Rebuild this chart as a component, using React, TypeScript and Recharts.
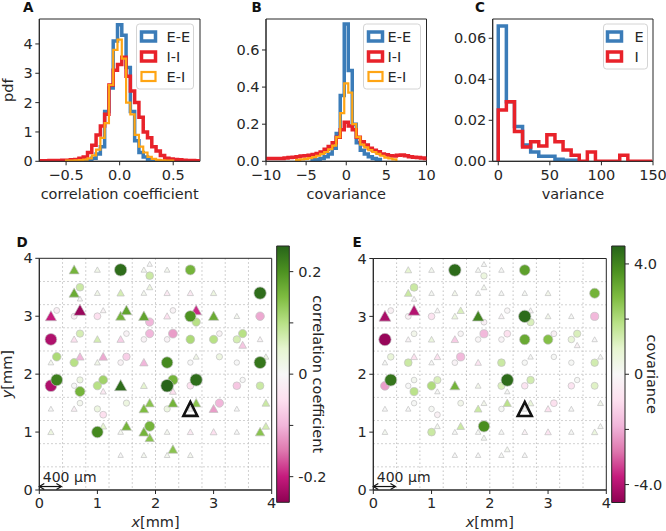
import React from "react";
import {
  LineChart,
  Line,
  ScatterChart,
  Scatter,
  ComposedChart,
  XAxis,
  YAxis,
  CartesianGrid,
  ReferenceArea,
  ReferenceLine,
} from "recharts";

const W = 666;
const H = 531;
const AX = 30; // space given to each axis in the layout
const FONT = "'DejaVu Sans', sans-serif";
const INK = "#262626";
const FS = 14.5;

const BLUE = "#3b7cb8";
const RED = "#e8222a";
const ORANGE = "#ffa514";

// ---- A: correlation coefficient histograms (bin width 0.04)
const A_BIN = 0.04;
const A_EE_START = -0.38;
const A_EE = [0.01, 0.02, 0.05, 0.1, 0.25, 0.5, 1.7, 2.5, 4.1, 4.65, 4.3, 3.2, 1.7, 0.7, 0.3, 0.15, 0.05, 0.02, 0.01];
const A_II_START = -0.74;
const A_II = [
  0.02, 0.02, 0.03, 0.03, 0.03, 0.04, 0.04, 0.05, 0.06, 0.1, 0.15, 0.3, 0.55, 0.9, 1.2, 1.6, 2.6, 3.1, 3.3,
  3.55, 2.9, 2.4, 2.0, 1.5, 1.0, 0.8, 0.5, 0.35, 0.2, 0.1, 0.08, 0.06, 0.05, 0.04, 0.03, 0.03, 0.02,
];
const A_EI_START = -0.5;
const A_EI = [
  0.02, 0.02, 0.03, 0.04, 0.06, 0.1, 0.2, 0.4, 0.8, 1.3, 2.6, 3.8, 4.15, 3.5, 2.0, 1.6, 0.9, 0.5, 0.3, 0.15,
  0.08, 0.05, 0.03, 0.02, 0.02,
];
const A_XTICKS = [-0.5, 0, 0.5];
const A_YTICKS = [0, 1, 2, 3, 4];

// ---- B: covariance histograms (bin width 0.5)
const B_BIN = 0.5;
const B_EE_START = -4.25;
const B_EE = [0.008, 0.01, 0.015, 0.025, 0.04, 0.07, 0.15, 0.355, 0.74, 0.49, 0.2, 0.1, 0.06, 0.04, 0.025, 0.015, 0.01];
const B_II_START = -10.25;
const B_II = [
  0.015, 0.015, 0.015, 0.015, 0.015, 0.018, 0.02, 0.022, 0.025, 0.028, 0.03, 0.033, 0.036, 0.042, 0.05, 0.065,
  0.08, 0.1, 0.13, 0.17, 0.21, 0.19, 0.17, 0.13, 0.105, 0.088, 0.07, 0.06, 0.052, 0.04, 0.035, 0.03, 0.028,
  0.032, 0.034, 0.03, 0.025, 0.022, 0.02, 0.018, 0.015,
];
const B_EI_START = -6.25;
const B_EI = [
  0.008, 0.01, 0.013, 0.017, 0.022, 0.03, 0.04, 0.05, 0.065, 0.085, 0.13, 0.26, 0.42, 0.37, 0.2, 0.13, 0.09,
  0.075, 0.06, 0.05, 0.04, 0.03, 0.02, 0.015, 0.01,
];
const B_XTICKS = [-10, -5, 0, 5, 10];
const B_YTICKS = [0, 0.2, 0.4, 0.6];

// ---- C: variance histograms (bin width 7.85)
const C_BIN = 7.85;
const C_E = [0.066, 0.029, 0.017, 0.008, 0.0045, 0.0025, 0.0025, 0.001, 0.0005, 0.0005];
const C_I = [0.025, 0.029, 0.0145, 0.007, 0.0095, 0.0075, 0.013, 0.0095, 0.0055, 0.003, 0, 0.0045, 0, 0, 0, 0.003, 0, 0, 0];
const C_XTICKS = [0, 50, 100, 150];
const C_YTICKS = [0, 0.02, 0.04, 0.06];

// ---- D / E: electrode map (mm), c = circle, t = triangle
const MAP_X = [
  0.6, 1.0, 1.4, 1.8, 1.9, 1.9, 2.2, 2.6,
  0.6, 0.7, 0.7, 1.0, 1.4, 1.8, 1.9, 2.2, 2.6, 3.0, 3.8,
  0.2, 0.3, 0.6, 0.7, 1.0, 1.1, 1.4, 1.5, 1.8, 1.9, 2.2, 2.3, 2.6, 2.7, 2.7, 3.0, 3.4, 3.8,
  0.2, 0.7, 0.6, 1.0, 1.4, 1.5, 1.8, 1.9, 2.2, 2.3, 2.6, 3.0, 3.1, 3.4, 3.5, 3.5, 3.8,
  0.2, 0.3, 0.6, 0.7, 1.0, 1.1, 1.4, 1.5, 1.8, 2.2, 2.6, 2.7, 3.1, 3.4, 3.8, 3.9,
  0.2, 0.3, 0.6, 0.7, 0.7, 1.0, 1.1, 1.1, 1.4, 1.8, 2.2, 2.3, 2.3, 2.6, 2.7, 3.4, 3.5, 3.8,
  0.2, 0.6, 0.7, 1.0, 1.1, 1.5, 1.8, 1.9, 2.2, 2.3, 2.6, 2.7, 3.0, 3.1, 3.4, 3.9,
  0.2, 1.0, 1.1, 1.4, 1.5, 1.8, 1.9, 1.9, 2.2, 2.6, 3.0, 3.4, 3.8, 3.9,
  1.4, 1.8, 2.2, 2.3, 2.6,
];
const MAP_Y = [
  3.8, 3.8, 3.8, 3.8, 3.9, 3.7, 3.8, 3.8,
  3.4, 3.5, 3.3, 3.4, 3.4, 3.4, 3.5, 3.4, 3.4, 3.4, 3.4,
  3.0, 3.1, 3.0, 3.1, 3.0, 3.1, 3.0, 3.1, 3.0, 2.9, 3.0, 3.1, 3.0, 2.9, 3.1, 3.0, 3.0, 3.0,
  2.6, 2.7, 2.6, 2.6, 2.6, 2.7, 2.6, 2.7, 2.6, 2.7, 2.6, 2.6, 2.7, 2.6, 2.7, 2.5, 2.6,
  2.2, 2.3, 2.2, 2.3, 2.2, 2.3, 2.2, 2.3, 2.2, 2.2, 2.2, 2.3, 2.3, 2.2, 2.2, 2.3,
  1.8, 1.9, 1.8, 1.9, 1.7, 1.8, 1.9, 1.7, 1.8, 1.8, 1.8, 1.9, 1.7, 1.8, 1.9, 1.8, 1.9, 1.8,
  1.4, 1.4, 1.5, 1.4, 1.3, 1.5, 1.4, 1.5, 1.4, 1.5, 1.4, 1.5, 1.4, 1.5, 1.4, 1.5,
  1.0, 1.0, 1.1, 1.0, 1.1, 1.0, 1.1, 0.9, 1.0, 1.0, 1.0, 1.0, 1.0, 1.1,
  0.6, 0.6, 0.6, 0.7, 0.6,
];
const MAP_SHAPE = [
  "ttcttctc",
  "tcttttttttc",
  "tcctcttttctccctttc",
  "cctttcccccccccctt",
  "tcctttcctcctccct",
  "ccccccctttcctccccc",
  "ttccccttcttttctt",
  "tcttttcttttttt",
  "ttttt",
].join("").split("");
const CORR = [
  0.16, 0.02, 0.24, 0.01, 0, 0.08, 0.01, 0.16,
  0.17, 0.08, 0, 0.02, 0.07, 0.01, 0.03, -0.03, -0.03, 0.03, 0.24,
  -0.2, -0.02, -0.02, -0.24, -0.05, -0.01, 0.16, 0.18, 0.18, -0.1, -0.05, -0.01, 0.2, 0.1, -0.19, 0.17, 0.01, -0.11,
  -0.22, 0.07, -0.05, 0.07, -0.07, -0.01, -0.01, -0.1, -0.01, -0.12, 0.11, 0.1, -0.01, 0.07, 0.1, -0.08, -0.01,
  0.01, 0.11, 0.1, -0.1, 0.02, -0.11, -0.01, -0.07, -0.1, 0.21, 0, 0.02, 0.03, 0, 0.23, 0.02,
  -0.22, 0.22, 0, 0.03, 0.16, 0.1, 0.12, -0.03, 0.24, 0.05, 0.25, 0.16, -0.05, -0.05, 0.24, -0.08, 0, 0.08,
  0, -0.02, 0.01, 0.03, -0.05, 0.03, 0.15, 0.14, 0.03, 0.16, 0, 0.14, -0.12, -0.1, 0, 0.08,
  0.03, 0.21, 0.05, 0.01, 0.16, 0.16, 0.16, 0.14, 0.01, -0.03, -0.05, 0, 0.14, 0.07,
  0, 0.01, 0.01, 0.14, 0.01,
];
const COV = [
  0.9, 0.2, 4.5, 0.1, 0.05, 0.6, 0.05, 3.4,
  1.5, 1.5, 0, 0.1, 0.3, 0.05, 0.2, 0.05, 0.1, 0.3, 3.0,
  -4.2, -0.3, -0.3, -4.0, -0.8, -0.1, 0.6, 1.2, 4.0, -0.3, -0.2, -0.1, 4.5, 1.2, -0.2, 0.3, 0.05, -1.8,
  -4.5, 0.3, -0.2, 0.6, -1.4, -0.1, -0.1, -1.8, -0.15, -0.9, 3.2, 2.7, -0.3, 0.75, 1.2, -0.3, -0.05,
  0.05, 0.75, 1.5, -0.9, 0.05, -0.9, -0.2, -1.8, -0.75, 1.5, 0.05, 0.05, 0.05, 0.05, 1.35, 0.05,
  -2.2, 4.3, 0, 0.2, 1.8, 2.0, 1.2, 0.05, 3.0, 0.3, 1.2, 4.5, 0.05, -0.75, 1.35, -0.75, 0.05, 1.05,
  0, 0, 0.05, 0.1, -0.3, 0.3, 1.5, 0.3, 0.1, 1.8, 0, 0.75, -0.9, -0.9, 0, 0.3,
  0.2, 1.5, 0.2, 0.05, 1.5, 0.1, 3.8, 0.2, 0.05, -0.3, -0.75, 0.05, 0.6, 0.1,
  0, 0, 0.05, 0.2, 0,
];
const SRC_X = [2.6];
const SRC_Y = [1.4];
const MAP_TICKS = [0, 1, 2, 3, 4];
const GRID_MM = [0.4, 0.8, 1.2, 1.6, 2.0, 2.4, 2.8, 3.2, 3.6];
const SCALE_BAR = [0, 0.38];
const SCALE_Y = 0.06;

// colorbars
const CORR_MAX = 0.25;
const CORR_TICKS = [-0.2, -0.1, 0, 0.1, 0.2];
const CORR_LABELS = ["-0.2", "", "0", "", "0.2"];
const COV_MAX = 4.65;
const COV_TICKS = [-4, -2, 0, 2, 4];
const COV_LABELS = ["-4.0", "", "0", "", "4.0"];

const PIYG = ["#8e0152", "#c51b7d", "#de77ae", "#f1b6da", "#fde0ef", "#f7f7f7", "#e6f5d0", "#b8e186", "#7fbc41", "#4d9221", "#276419"];

type Box = { l: number; t: number; r: number; b: number };
const BOX_A: Box = { l: 39.3, t: 19, r: 200, b: 161.3 };
const BOX_B: Box = { l: 266, t: 19, r: 426.5, b: 161.3 };
const BOX_C: Box = { l: 492.7, t: 19, r: 653, b: 161.3 };
const BOX_D: Box = { l: 39.3, t: 258.3, r: 271.7, b: 490 };
const BOX_E: Box = { l: 373.3, t: 258.5, r: 606.3, b: 490 };
const BOX_CD: Box = { l: 276.7, t: 246, r: 289.3, b: 502.3 };
const BOX_CE: Box = { l: 611.7, t: 246, r: 625, b: 502.5 };

const marginFor = (b: Box) => ({ left: b.l - AX, top: b.t, right: W - b.r, bottom: H - b.b - AX });

function hexToRgb(h: string) {
  return [1, 3, 5].map((i) => parseInt(h.slice(i, i + 2), 16));
}

function piyg(t: number) {
  const p = Math.max(0, Math.min(1, t)) * 10;
  const i = Math.min(9, Math.floor(p));
  const f = p - i;
  const a = hexToRgb(PIYG[i]);
  const b = hexToRgb(PIYG[i + 1]);
  const c = a.map((v, k) => Math.round(v + (b[k] - v) * f));
  return `rgb(${c[0]},${c[1]},${c[2]})`;
}

function stepPoints(start: number, bin: number, values: number[]) {
  const end = start + values.length * bin;
  return [
    { x: start, y: 0 },
    ...values.map((v, i) => ({ x: start + i * bin, y: v })),
    { x: end, y: values[values.length - 1] },
    { x: end, y: 0 },
  ];
}

const fmt = (digits: number) => (v: number) => (v < 0 ? "\u2212" : "") + Math.abs(v).toFixed(digits);

const tickStyle = { fontSize: FS, fill: INK, fontFamily: FONT };
const xAxisProps = {
  type: "number" as const,
  dataKey: "x",
  height: AX,
  tickSize: 4,
  tickMargin: 4,
  interval: 0 as const,
  allowDataOverflow: true,
  axisLine: { stroke: INK },
  tickLine: { stroke: INK },
  tick: tickStyle,
};
const yAxisProps = { ...xAxisProps, dataKey: "y", width: AX, height: undefined, tickMargin: 2.5 };

const Layer: React.FC<{ children: React.ReactNode }> = ({ children }) => (
  <div style={{ position: "absolute", left: 0, top: 0 }}>{children}</div>
);

type Series = { name: string; start: number; values: number[]; color: string; width: number };
type LegendSpec = { x: number; w: number; patchDx: number; textDx: number };

function legendBox(spec: LegendSpec, series: Series[]) {
  const top = 24;
  return (
    <g>
      <rect x={spec.x} y={top} width={spec.w} height={series.length * 20 + 5} rx={3} fill="#fff" fillOpacity={0.85} stroke="#d4d4d4" />
      {series.map((s, i) => {
        const cy = top + 12.5 + i * 20;
        return (
          <g key={s.name}>
            <rect x={spec.x + spec.patchDx + 1.5} y={cy - 4.5} width={14} height={9} fill="#fff" stroke={s.color} strokeWidth={s.width} />
            <text x={spec.x + spec.textDx} y={cy + 5} fontSize={FS} fill={INK} fontFamily={FONT}>
              {s.name}
            </text>
          </g>
        );
      })}
    </g>
  );
}

type HistProps = {
  box: Box;
  bin: number;
  series: Series[];
  xDomain: [number, number];
  xTicks: number[];
  xDigits: number;
  yDomain: [number, number];
  yTicks: number[];
  yDigits: number;
  legend: LegendSpec;
  letter: string;
  letterX: number;
  xLabel: string;
  yLabel?: string;
};

function HistPanel(p: HistProps) {
  const { box } = p;
  return (
    <Layer>
      <LineChart width={W} height={H} margin={marginFor(box)}>
        <XAxis {...xAxisProps} domain={p.xDomain} ticks={p.xTicks} tickFormatter={fmt(p.xDigits)} />
        <YAxis {...yAxisProps} domain={p.yDomain} ticks={p.yTicks} tickFormatter={fmt(p.yDigits)} />
        {p.series.map((s) => (
          <Line
            key={s.name}
            data={stepPoints(s.start, p.bin, s.values)}
            dataKey="y"
            type="stepAfter"
            stroke={s.color}
            strokeWidth={s.width}
            strokeLinejoin="miter"
            dot={false}
            activeDot={false}
            isAnimationActive={false}
          />
        ))}
        <ReferenceArea x1={p.xDomain[0]} x2={p.xDomain[1]} y1={p.yDomain[0]} y2={p.yDomain[1]} fill="none" stroke={INK} ifOverflow="visible" />
        {legendBox(p.legend, p.series)}
        <text x={p.letterX} y={12} fontSize={13.5} fontWeight="bold" fill="#111" fontFamily={FONT}>
          {p.letter}
        </text>
        <text x={(box.l + box.r) / 2} y={199} textAnchor="middle" fontSize={FS} fill={INK} fontFamily={FONT}>
          {p.xLabel}
        </text>
        {p.yLabel && (
          <text x={13} y={(box.t + box.b) / 2} transform={`rotate(-90 13 ${(box.t + box.b) / 2})`} textAnchor="middle" fontSize={FS} fill={INK} fontFamily={FONT}>
            {p.yLabel}
          </text>
        )}
      </LineChart>
    </Layer>
  );
}

const markerShape = (vmax: number) => (props: any) => {
  const { cx, cy, payload } = props;
  const v: number = payload.v;
  const r = 2.7 + 3.6 * Math.min(1, Math.abs(v) / vmax);
  const fill = piyg(0.5 + (0.5 * v) / vmax);
  if (payload.tri) {
    return <polygon points={`${cx},${cy - r} ${cx - r},${cy + r * 0.8} ${cx + r},${cy + r * 0.8}`} fill={fill} stroke="#c2c2c2" strokeWidth={0.7} />;
  }
  return <circle cx={cx} cy={cy} r={r} fill={fill} stroke="#c2c2c2" strokeWidth={0.7} />;
};

const sourceShape = (props: any) => {
  const { cx, cy } = props;
  const s = 7;
  return <polygon points={`${cx},${cy - s} ${cx - s},${cy + s} ${cx + s},${cy + s}`} fill="none" stroke="#111" strokeWidth={2.6} strokeLinejoin="miter" />;
};

const scaleBarShape = (props: any) => {
  const { x1, y1, x2, y2 } = props;
  const hl = 5;
  const hw = 3;
  return (
    <g>
      <g stroke="#111" strokeWidth={1.2} fill="none">
        <line x1={x1} y1={y1} x2={x2} y2={y2} />
        <polyline points={`${x1 + hl},${y1 - hw} ${x1},${y1} ${x1 + hl},${y1 + hw}`} />
        <polyline points={`${x2 - hl},${y2 - hw} ${x2},${y2} ${x2 - hl},${y2 + hw}`} />
      </g>
      <text x={x1 + 3.5} y={y1 - 4.5} fontSize={14} fill={INK} fontFamily={FONT}>
        400 µm
      </text>
    </g>
  );
};

type MapProps = { box: Box; values: number[]; vmax: number; letter: string; letterX: number; yLabel?: boolean };

function MapPanel({ box, values, vmax, letter, letterX, yLabel }: MapProps) {
  const pts = MAP_X.map((x, i) => ({ x, y: MAP_Y[i], tri: MAP_SHAPE[i] === "t", v: values[i] })).sort(
    (a, b) => Math.abs(a.v) - Math.abs(b.v)
  );
  const src = SRC_X.map((x, i) => ({ x, y: SRC_Y[i] }));
  const midY = (box.t + box.b) / 2;
  return (
    <Layer>
      <ScatterChart width={W} height={H} margin={marginFor(box)}>
        <CartesianGrid
          verticalValues={GRID_MM}
          horizontalValues={GRID_MM}
          stroke="#bdbdbd"
          strokeDasharray="1.4 2.6"
        />
        <XAxis {...xAxisProps} domain={[0, 4]} ticks={MAP_TICKS} />
        <YAxis {...yAxisProps} domain={[0, 4]} ticks={MAP_TICKS} />
        <Scatter data={pts} shape={markerShape(vmax)} isAnimationActive={false} />
        <Scatter data={src} shape={sourceShape} isAnimationActive={false} />
        <ReferenceLine
          segment={[
            { x: SCALE_BAR[0], y: SCALE_Y },
            { x: SCALE_BAR[1], y: SCALE_Y },
          ]}
          shape={scaleBarShape}
          ifOverflow="visible"
        />
        <ReferenceArea x1={0} x2={4} y1={0} y2={4} fill="none" stroke={INK} ifOverflow="visible" />
        <text x={letterX} y={247} fontSize={13.5} fontWeight="bold" fill="#111" fontFamily={FONT}>
          {letter}
        </text>
        <text x={(box.l + box.r) / 2} y={527} textAnchor="middle" fontSize={FS} fill={INK} fontFamily={FONT}>
          <tspan fontStyle="italic">x</tspan>[mm]
        </text>
        {yLabel && (
          <text x={12} y={midY} transform={`rotate(-90 12 ${midY})`} textAnchor="middle" fontSize={FS} fill={INK} fontFamily={FONT}>
            <tspan fontStyle="italic">y</tspan>[mm]
          </text>
        )}
      </ScatterChart>
    </Layer>
  );
}

type BarProps = { box: Box; id: string; vmax: number; ticks: number[]; labels: string[]; title: string; titleX: number };

function Colorbar({ box, id, vmax, ticks, labels, title, titleX }: BarProps) {
  const midY = (box.t + box.b) / 2;
  return (
    <Layer>
      <ComposedChart width={W} height={H} margin={{ left: box.l, top: box.t, right: W - box.r - AX, bottom: H - box.b }}>
        <defs>
          <linearGradient id={id} x1="0" y1="0" x2="0" y2="1">
            {PIYG.slice()
              .reverse()
              .map((c, i) => (
                <stop key={i} offset={`${i * 10}%`} stopColor={c} />
              ))}
          </linearGradient>
        </defs>
        <XAxis type="number" dataKey="x" domain={[0, 1]} hide allowDataOverflow />
        <YAxis
          {...yAxisProps}
          orientation="right"
          domain={[-vmax, vmax]}
          ticks={ticks}
          tickMargin={5}
          axisLine={false}
          tickFormatter={(v: number) => labels[ticks.indexOf(v)] ?? ""}
        />
        <ReferenceArea x1={0} x2={1} y1={-vmax} y2={vmax} fill={`url(#${id})`} fillOpacity={1} stroke={INK} ifOverflow="visible" />
        <text x={titleX} y={midY} transform={`rotate(90 ${titleX} ${midY})`} textAnchor="middle" fontSize={FS} fill={INK} fontFamily={FONT}>
          {title}
        </text>
      </ComposedChart>
    </Layer>
  );
}

export default function App() {
  const seriesA: Series[] = [
    { name: "E-E", start: A_EE_START, values: A_EE, color: BLUE, width: 3.5 },
    { name: "I-I", start: A_II_START, values: A_II, color: RED, width: 3.5 },
    { name: "E-I", start: A_EI_START, values: A_EI, color: ORANGE, width: 2.2 },
  ];
  const seriesB: Series[] = [
    { name: "E-E", start: B_EE_START, values: B_EE, color: BLUE, width: 3.5 },
    { name: "I-I", start: B_II_START, values: B_II, color: RED, width: 3.5 },
    { name: "E-I", start: B_EI_START, values: B_EI, color: ORANGE, width: 2.2 },
  ];
  const seriesC: Series[] = [
    { name: "E", start: 0, values: C_E, color: BLUE, width: 3.5 },
    { name: "I", start: 0, values: C_I, color: RED, width: 3.5 },
  ];
  return (
    <div style={{ position: "absolute", left: 0, top: 0, width: W, height: H, background: "#fff", fontFamily: FONT, overflow: "hidden" }}>
      <HistPanel
        box={BOX_A}
        bin={A_BIN}
        series={seriesA}
        xDomain={[-0.75, 0.75]}
        xTicks={A_XTICKS}
        xDigits={1}
        yDomain={[0, 4.85]}
        yTicks={A_YTICKS}
        yDigits={0}
        legend={{ x: 136.5, w: 57, patchDx: 3.5, textDx: 30 }}
        letter="A"
        letterX={23}
        xLabel="correlation coefficient"
        yLabel="pdf"
      />
      <HistPanel
        box={BOX_B}
        bin={B_BIN}
        series={seriesB}
        xDomain={[-10, 10]}
        xTicks={B_XTICKS}
        xDigits={0}
        yDomain={[0, 0.767]}
        yTicks={B_YTICKS}
        yDigits={1}
        legend={{ x: 363.5, w: 57, patchDx: 3.5, textDx: 24 }}
        letter="B"
        letterX={251.5}
        xLabel="covariance"
      />
      <HistPanel
        box={BOX_C}
        bin={C_BIN}
        series={seriesC}
        xDomain={[-5.4, 150]}
        xTicks={C_XTICKS}
        xDigits={0}
        yDomain={[0, 0.0694]}
        yTicks={C_YTICKS}
        yDigits={2}
        legend={{ x: 603.5, w: 44, patchDx: 2.5, textDx: 31 }}
        letter="C"
        letterX={475}
        xLabel="variance"
      />
      <MapPanel box={BOX_D} values={CORR} vmax={CORR_MAX} letter="D" letterX={16.5} yLabel />
      <MapPanel box={BOX_E} values={COV} vmax={COV_MAX} letter="E" letterX={352.5} />
      <Colorbar box={BOX_CD} id="cbarD" vmax={CORR_MAX} ticks={CORR_TICKS} labels={CORR_LABELS} title="correlation coefficient" titleX={313} />
      <Colorbar box={BOX_CE} id="cbarE" vmax={COV_MAX} ticks={COV_TICKS} labels={COV_LABELS} title="covariance" titleX={647} />
    </div>
  );
}
